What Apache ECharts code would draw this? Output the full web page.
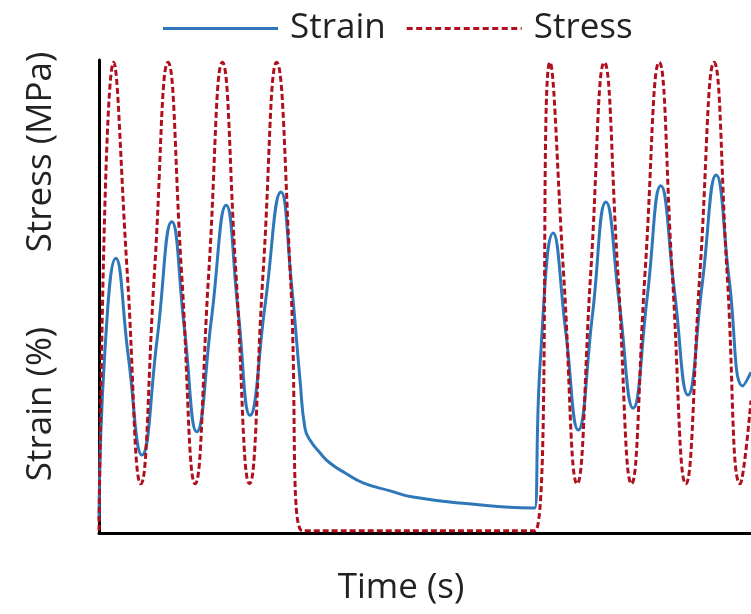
<!DOCTYPE html>
<html>
<head>
<meta charset="utf-8">
<script src="https://cdn.jsdelivr.net/npm/echarts@6/dist/echarts.min.js"></script>
<style>html,body{margin:0;padding:0;background:#fff;}#main{width:751px;height:614px;}</style>
</head>
<body>
<div id="main"></div>
<script>
// Time axis (arbitrary units)
var stressTime  = [0, 2.7, 5.2, 7.7, 10.2, 12.7, 15.2, 17.7, 20.2, 22.7, 25.2, 27.7, 30.2, 32.7, 35.2, 37.4, 80.3, 83.0, 85.5, 88.0, 90.5, 93.0, 95.5, 98.0, 100.5, 103.1, 105.5, 108.0, 110.6, 113.2, 115.6, 118.0, 120];
var stressValue = [0.5, 99.5, 55, 10.4, 55, 99.5, 55, 10.4, 55, 99.5, 55, 10.4, 55, 99.5, 55, 0.5, 0.5, 99.5, 55, 10.4, 55, 99.5, 55, 10.4, 55, 99.5, 55, 10.4, 55, 99.5, 55, 10.4, 28];

var strainTime  = [0, 1.1, 3.1, 5.4, 7.9, 10.7, 13.4, 15.7, 18.0, 20.7, 23.4, 25.6, 27.8, 30.6, 33.5, 35.4, 37.0, 37.9, 38.8, 40.7, 42.5, 45.3, 48.6, 53.6, 57.8, 67.0, 79.9, 80.2, 81.2, 83.6, 85.9, 88.2, 90.8, 93.3, 95.8, 98.3, 100.9, 103.4, 105.9, 108.4, 111.0, 113.6, 116.0, 118.5, 120];
var strainValue = [2.7, 38.7, 58.1, 37.3, 16.5, 41, 65.8, 43.5, 21.4, 45.3, 69.3, 47, 24.9, 48.5, 72.1, 53, 32.3, 22.2, 19.7, 16.9, 14.8, 12.7, 10.6, 8.9, 7.6, 6.3, 5.3, 5.3, 36, 63.4, 42.6, 21.8, 45.9, 70.0, 48.2, 26.4, 49.9, 73.4, 51.3, 29.2, 52.4, 75.7, 53.4, 31.1, 34];

var seriesNames = ['Strain', 'Stress'];
var axisNames = {x: 'Time (s)', yTop: 'Stress (MPa)', yBottom: 'Strain (%)'};

function pairs(t, v) { return t.map(function (x, i) { return [x, v[i]]; }); }

// legend icons: a solid bar and a dashed bar (drawn as small rectangles)
var ICON_W = 115;
function dashedIcon(w, dash, gap) {
  var p = 'path://', x = 0;
  while (x < w) { var l = Math.min(dash, w - x); p += 'M' + x + ',0h' + l + 'v3h-' + l + 'z'; x += dash + gap; }
  return p;
}
var solidIcon = 'path://M0,0h' + ICON_W + 'v3h-' + ICON_W + 'z';

var FONT = '"Open Sans", sans-serif';
var FS = 35;
var chart = echarts.init(document.getElementById('main'));
chart.setOption({
  animation: false,
  backgroundColor: '#ffffff',
  legend: {
    left: 158, top: 6,
    itemWidth: ICON_W, itemHeight: 3, itemGap: 21,
    data: [
      {name: seriesNames[0], icon: solidIcon},
      {name: seriesNames[1], icon: dashedIcon(ICON_W, 6, 3.5)}
    ],
    textStyle: {fontFamily: FONT, fontSize: FS, color: '#222', padding: [0, 0, 0, 7]}
  },
  grid: {left: 99, right: 0, top: 60, bottom: 81},
  xAxis: {
    type: 'value', min: 0, max: 120,
    name: axisNames.x, nameLocation: 'middle', nameGap: 38,
    nameTextStyle: {fontFamily: FONT, fontSize: FS, color: '#222', padding: [0, 48, 0, 0]},
    axisLine: {show: true, lineStyle: {color: '#000', width: 3}},
    axisTick: {show: false}, axisLabel: {show: false}, splitLine: {show: false}
  },
  yAxis: {
    type: 'value', min: 0, max: 100,
    axisLine: {show: true, lineStyle: {color: '#000', width: 3}},
    axisTick: {show: false}, axisLabel: {show: false}, splitLine: {show: false}
  },
  graphic: [
    {type: 'text', x: 41, y: 152, rotation: Math.PI / 2,
     style: {text: axisNames.yTop, font: FS + 'px ' + FONT, fill: '#222', textAlign: 'center', textVerticalAlign: 'middle'}},
    {type: 'text', x: 41, y: 404, rotation: Math.PI / 2,
     style: {text: axisNames.yBottom, font: FS + 'px ' + FONT, fill: '#222', textAlign: 'center', textVerticalAlign: 'middle'}}
  ],
  series: [
    {name: seriesNames[0], type: 'line', data: pairs(strainTime, strainValue), smooth: 0.5,
     showSymbol: false, symbol: 'none', z: 3,
     lineStyle: {color: '#2E78BA', width: 3}, itemStyle: {color: '#2E78BA'}},
    {name: seriesNames[1], type: 'line', data: pairs(stressTime, stressValue), smooth: 0.5,
     showSymbol: false, symbol: 'none', z: 4,
     lineStyle: {color: '#B0101E', width: 3, type: [6, 3]}, itemStyle: {color: '#B0101E'}}
  ]
});
</script>
</body>
</html>
